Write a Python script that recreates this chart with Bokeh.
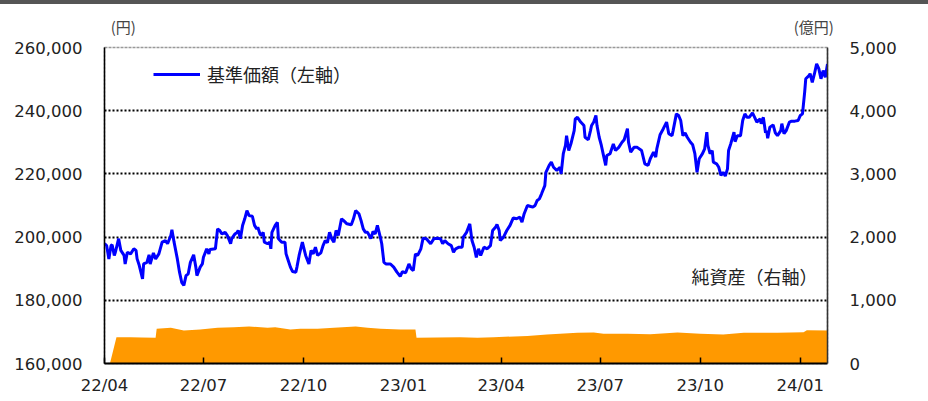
import pandas as pd
from bokeh.plotting import figure
from bokeh.layouts import column
from bokeh.models import (Range1d, LinearAxis, MonthsTicker, DatetimeTickFormatter,
                          NumeralTickFormatter, FixedTicker, Legend, LegendItem, Label,
                          ColumnDataSource, Div)
from bokeh.embed import file_html
from bokeh.resources import INLINE

# ---- data ----
nav_dates = [
    "2022-04-01", "2022-04-03", "2022-04-05", "2022-04-07", "2022-04-08", "2022-04-10", "2022-04-11",
    "2022-04-14", "2022-04-16", "2022-04-19", "2022-04-20", "2022-04-22", "2022-04-25", "2022-04-28",
    "2022-04-30", "2022-05-01", "2022-05-03", "2022-05-06", "2022-05-07", "2022-05-10", "2022-05-12",
    "2022-05-13", "2022-05-16", "2022-05-18", "2022-05-21", "2022-05-24", "2022-05-27", "2022-05-29",
    "2022-06-01", "2022-06-02", "2022-06-04", "2022-06-07", "2022-06-09", "2022-06-11", "2022-06-13",
    "2022-06-15", "2022-06-17", "2022-06-19", "2022-06-22", "2022-06-24", "2022-06-25", "2022-06-28",
    "2022-06-30", "2022-07-01", "2022-07-04", "2022-07-06", "2022-07-07", "2022-07-12", "2022-07-14",
    "2022-07-16", "2022-07-18", "2022-07-21", "2022-07-23", "2022-07-26", "2022-07-27", "2022-07-30",
    "2022-08-01", "2022-08-02", "2022-08-04", "2022-08-06", "2022-08-08", "2022-08-10", "2022-08-12",
    "2022-08-15", "2022-08-17", "2022-08-19", "2022-08-20", "2022-08-22", "2022-08-23", "2022-08-25",
    "2022-08-26", "2022-08-29", "2022-08-31", "2022-09-01", "2022-09-02", "2022-09-05", "2022-09-07",
    "2022-09-08", "2022-09-11", "2022-09-14", "2022-09-15", "2022-09-17", "2022-09-19", "2022-09-21",
    "2022-09-24", "2022-09-25", "2022-09-27", "2022-09-30", "2022-10-03", "2022-10-06", "2022-10-08",
    "2022-10-10", "2022-10-12", "2022-10-14", "2022-10-17", "2022-10-19", "2022-10-21", "2022-10-23",
    "2022-10-25", "2022-10-27", "2022-10-29", "2022-10-31", "2022-11-02", "2022-11-05", "2022-11-07",
    "2022-11-10", "2022-11-14", "2022-11-16", "2022-11-18", "2022-11-21", "2022-11-23", "2022-11-25",
    "2022-11-27", "2022-11-29", "2022-12-02", "2022-12-04", "2022-12-06", "2022-12-08", "2022-12-11",
    "2022-12-12", "2022-12-14", "2022-12-16", "2022-12-20", "2022-12-23", "2022-12-26", "2022-12-29",
    "2022-12-31", "2023-01-03", "2023-01-06", "2023-01-08", "2023-01-10", "2023-01-12", "2023-01-14",
    "2023-01-17", "2023-01-19", "2023-01-22", "2023-01-26", "2023-01-29", "2023-02-01", "2023-02-04",
    "2023-02-06", "2023-02-08", "2023-02-11", "2023-02-14", "2023-02-16", "2023-02-18", "2023-02-21",
    "2023-02-24", "2023-02-25", "2023-02-28", "2023-03-03", "2023-03-05", "2023-03-07", "2023-03-09",
    "2023-03-11", "2023-03-13", "2023-03-16", "2023-03-19", "2023-03-22", "2023-03-24", "2023-03-27",
    "2023-03-28", "2023-03-30", "2023-03-31", "2023-04-03", "2023-04-06", "2023-04-09", "2023-04-12",
    "2023-04-15", "2023-04-18", "2023-04-20", "2023-04-22", "2023-04-25", "2023-04-28", "2023-04-30",
    "2023-05-02", "2023-05-04", "2023-05-06", "2023-05-08", "2023-05-11", "2023-05-12", "2023-05-15",
    "2023-05-17", "2023-05-19", "2023-05-22", "2023-05-25", "2023-05-26", "2023-05-28", "2023-05-30",
    "2023-05-31", "2023-06-02", "2023-06-04", "2023-06-07", "2023-06-08", "2023-06-10", "2023-06-13",
    "2023-06-16", "2023-06-17", "2023-06-20", "2023-06-22", "2023-06-23", "2023-06-25", "2023-06-27",
    "2023-06-28", "2023-06-30", "2023-07-02", "2023-07-04", "2023-07-06", "2023-07-07", "2023-07-10",
    "2023-07-13", "2023-07-15", "2023-07-18", "2023-07-21", "2023-07-23", "2023-07-26", "2023-07-27",
    "2023-07-29", "2023-08-01", "2023-08-04", "2023-08-08", "2023-08-11", "2023-08-14", "2023-08-16",
    "2023-08-19", "2023-08-21", "2023-08-22", "2023-08-25", "2023-08-28", "2023-08-31", "2023-09-02",
    "2023-09-05", "2023-09-06", "2023-09-09", "2023-09-11", "2023-09-13", "2023-09-15", "2023-09-17",
    "2023-09-19", "2023-09-22", "2023-09-24", "2023-09-26", "2023-09-28", "2023-09-30", "2023-10-03",
    "2023-10-05", "2023-10-07", "2023-10-08", "2023-10-10", "2023-10-12", "2023-10-13", "2023-10-16",
    "2023-10-18", "2023-10-20", "2023-10-22", "2023-10-24", "2023-10-26", "2023-10-27", "2023-10-29",
    "2023-11-01", "2023-11-02", "2023-11-04", "2023-11-07", "2023-11-09", "2023-11-11", "2023-11-13",
    "2023-11-15", "2023-11-18", "2023-11-20", "2023-11-22", "2023-11-25", "2023-11-26", "2023-11-28",
    "2023-11-30", "2023-12-01", "2023-12-02", "2023-12-04", "2023-12-07", "2023-12-09", "2023-12-11",
    "2023-12-14", "2023-12-15", "2023-12-17", "2023-12-19", "2023-12-22", "2023-12-24", "2023-12-27",
    "2023-12-30", "2024-01-01", "2024-01-03", "2024-01-05", "2024-01-06", "2024-01-09", "2024-01-10",
    "2024-01-12", "2024-01-14", "2024-01-16", "2024-01-18", "2024-01-20", "2024-01-22", "2024-01-24",
    "2024-01-26",
]
nav_values = [
    197900, 197300, 193100, 197300, 197600, 194200, 195200,
    199500, 195800, 194200, 191500, 195200, 194700, 196300,
    195800, 193100, 191000, 186800, 191500, 192000, 194400,
    191500, 195000, 193100, 194700, 198400, 198900, 197900,
    200500, 202300, 198400, 193100, 188900, 185700, 184700,
    187800, 188400, 192000, 194400, 190500, 187800, 190500,
    191500, 193600, 196300, 194700, 196100, 196300, 202600,
    202100, 201000, 201500, 200500, 197900, 199500, 201000,
    201500, 202100, 199500, 203700, 205800, 208400, 206800,
    206600, 203700, 202600, 203100, 201000, 200500, 201500,
    198400, 197900, 198400, 196300, 201500, 203700, 204700,
    199500, 198400, 198400, 194700, 192600, 190500, 189100,
    188900, 190500, 194200, 198400, 194200, 191500, 195800,
    194700, 196800, 194200, 195000, 197300, 198900, 198200,
    201500, 199500, 198400, 202100, 200500, 205800, 205200,
    204200, 203900, 205800, 208400, 207400, 205200, 202600,
    201500, 201500, 199500, 201800, 201000, 203700, 199500,
    197900, 192000, 191500, 191500, 190500, 188900, 187600,
    189100, 188700, 191500, 190000, 189400, 194700, 194200,
    196300, 199600, 199500, 197900, 199500, 199600, 199500,
    197900, 198900, 197900, 197300, 195200, 196300, 196800,
    196800, 200000, 201500, 204200, 198900, 196800, 193600,
    196300, 194200, 196800, 196300, 197300, 202100, 203300,
    204000, 202100, 198900, 200000, 202100, 203700, 206100,
    205800, 206300, 204700, 207400, 210000, 209700, 209500,
    210000, 211600, 212100, 213700, 216300, 220500, 222700,
    223700, 222100, 221100, 222100, 220000, 226400, 229000,
    232100, 227400, 229500, 233700, 237400, 237900, 236400,
    235300, 231600, 230800, 233700, 235300, 236400, 238500,
    235300, 231600, 229000, 225800, 222700, 225800, 226400,
    229500, 227400, 228400, 230000, 230800, 234300, 230000,
    226900, 228400, 228400, 227400, 223200, 222700, 224800,
    226900, 225300, 227900, 232400, 234300, 236400, 232700,
    232100, 233700, 239000, 238500, 236900, 232100, 233000,
    231600, 230000, 229200, 226400, 220500, 224800, 226400,
    227900, 233200, 229000, 226400, 227400, 223700, 223200,
    222100, 219500, 220500, 219300, 221600, 227400, 229500,
    233200, 230200, 232100, 232100, 236900, 239000, 237900,
    237900, 239300, 237900, 236400, 237400, 235900, 237900,
    233000, 233700, 231300, 234800, 235500, 233000, 232100,
    233700, 235900, 232700, 233700, 236400, 236700, 236700,
    236900, 238500, 239000, 245900, 250100, 251100, 251700,
    249000, 251700, 254800, 253300, 250100, 252700, 250600,
    254800,
]

asset_dates = [
    "2022-04-06", "2022-04-12", "2022-04-25", "2022-05-05", "2022-05-18", "2022-05-19",
    "2022-06-01", "2022-06-13", "2022-06-28", "2022-07-14", "2022-07-29", "2022-08-12",
    "2022-08-29", "2022-09-05", "2022-09-19", "2022-09-28", "2022-10-14", "2022-10-29",
    "2022-11-18", "2022-11-29", "2022-12-11", "2022-12-29", "2023-01-12", "2023-01-13",
    "2023-02-01", "2023-02-22", "2023-03-10", "2023-03-25", "2023-04-25", "2023-05-13",
    "2023-06-10", "2023-06-25", "2023-07-04", "2023-07-26", "2023-08-16", "2023-09-10",
    "2023-10-01", "2023-10-22", "2023-11-10", "2023-12-11", "2024-01-04", "2024-01-07",
    "2024-01-26",
]
asset_values = [
    0, 416, 414, 410, 407, 549,
    565, 522, 538, 565, 575, 585,
    565, 575, 538, 549, 549, 565,
    585, 565, 549, 538, 538, 407,
    410, 415, 407, 416, 436, 459,
    486, 491, 470, 470, 464, 491,
    470, 459, 486, 486, 496, 527,
    522,
]

x_start, x_end = "2022-04-01", "2024-01-26"
left_ticks = [160000, 180000, 200000, 220000, 240000, 260000]
left_grid = [180000, 200000, 220000, 240000]
right_ticks = [0, 1000, 2000, 3000, 4000, 5000]
tick_months = [1, 4, 7, 10]          # calendar months that carry a tick

legend_nav = "基準価額（左軸）"
label_assets = "純資産（右軸）"
unit_left = "(円)"
unit_right = "(億円)"

# ---- figure ----
nav_src = ColumnDataSource(dict(date=pd.to_datetime(nav_dates), value=nav_values))
asset_src = ColumnDataSource(dict(date=pd.to_datetime(asset_dates), value=asset_values))

NUM_FONT = "DejaVu Sans"
JP_FONT = "Noto Sans CJK JP"
TXT = "#222222"

p = figure(width=928, height=397, x_axis_type="datetime",
           output_backend="svg", toolbar_location=None,
           x_range=Range1d(pd.Timestamp(x_start).to_pydatetime(), pd.Timestamp(x_end).to_pydatetime()),
           y_range=Range1d(left_ticks[0], left_ticks[-1]),
           min_border_left=104, min_border_right=101, min_border_top=43, min_border_bottom=38)
p.extra_y_ranges = {"assets": Range1d(right_ticks[0], right_ticks[-1])}
p.extra_x_ranges = {"units": Range1d(0, 1)}

p.background_fill_color = "white"
p.border_fill_color = "white"
p.outline_line_color = "#999999"
p.outline_line_width = 1.5
p.outline_line_dash = "3 1"

# grid
p.xgrid.visible = False
p.ygrid.ticker = FixedTicker(ticks=left_grid)
p.ygrid.grid_line_color = "black"
p.ygrid.grid_line_width = 2
p.ygrid.grid_line_dash = "2 2"

# area (right axis) and line (left axis)
p.varea(x="date", y1=0, y2="value", source=asset_src, y_range_name="assets",
        fill_color="#FF9900", fill_alpha=1.0)
nav_line = p.line(x="date", y="value", source=nav_src, line_color="#0000FF", line_width=3)

# left axis
ya = p.yaxis[0]
ya.ticker = FixedTicker(ticks=left_ticks)
ya.formatter = NumeralTickFormatter(format="0,0")
ya.major_tick_in = 0
ya.major_tick_out = 0
ya.minor_tick_in = 0
ya.minor_tick_out = 0
ya.axis_line_color = "black"
ya.axis_line_width = 1.5
ya.major_label_standoff = 22
ya.major_label_text_font = NUM_FONT
ya.major_label_text_font_size = "16.5px"
ya.major_label_text_color = TXT

# right axis
ra = LinearAxis(y_range_name="assets", ticker=FixedTicker(ticks=right_ticks),
                formatter=NumeralTickFormatter(format="0,0"))
ra.major_tick_in = 0
ra.major_tick_out = 0
ra.minor_tick_in = 0
ra.minor_tick_out = 0
ra.axis_line_color = "#333333"
ra.axis_line_width = 1.5
ra.major_label_standoff = 22
ra.major_label_text_font = NUM_FONT
ra.major_label_text_font_size = "16.5px"
ra.major_label_text_color = TXT
p.add_layout(ra, "right")

# bottom axis (bokehjs months are 0-based)
xa = p.xaxis[0]
xa.ticker = MonthsTicker(months=[m - 1 for m in tick_months])
xa.formatter = DatetimeTickFormatter(months="%y/%m", days="%y/%m", years="%y/%m")
xa.major_tick_in = 6
xa.major_tick_out = 0
xa.minor_tick_in = 0
xa.minor_tick_out = 0
xa.axis_line_color = "black"
xa.axis_line_width = 2
xa.major_tick_line_width = 1.5
xa.major_label_standoff = 12
xa.major_label_text_font = NUM_FONT
xa.major_label_text_font_size = "16.5px"
xa.major_label_text_color = TXT

# unit captions above the frame, as an unlined top axis
unit_pos = [0.026, 0.981]
ua = LinearAxis(x_range_name="units", ticker=FixedTicker(ticks=unit_pos),
                major_label_overrides={unit_pos[0]: unit_left, unit_pos[1]: unit_right})
ua.axis_line_color = None
ua.major_tick_in = 0
ua.major_tick_out = 0
ua.minor_tick_in = 0
ua.minor_tick_out = 0
ua.major_label_standoff = 11
ua.major_label_text_font = JP_FONT
ua.major_label_text_font_size = "15px"
ua.major_label_text_color = "#444444"
p.add_layout(ua, "above")

# legend
legend = Legend(items=[LegendItem(label=legend_nav, renderers=[nav_line])],
                location=(49, 276), border_line_color=None, background_fill_alpha=0,
                padding=0, margin=0, glyph_width=47, glyph_height=20, label_standoff=7,
                label_text_font=JP_FONT, label_text_font_size="18px",
                label_text_color=TXT)
p.add_layout(legend)

# right-axis series caption
p.add_layout(Label(x=713, y=88, x_units="screen", y_units="screen", text=label_assets,
                   text_align="right", text_baseline="middle", text_font=JP_FONT,
                   text_font_size="18px", text_color=TXT))

top_bar = Div(text="", width=928, height=4, margin=0,
              styles={"background-color": "#555555"})

open("out.html", "w").write(file_html(column(top_bar, p, spacing=0), INLINE))
